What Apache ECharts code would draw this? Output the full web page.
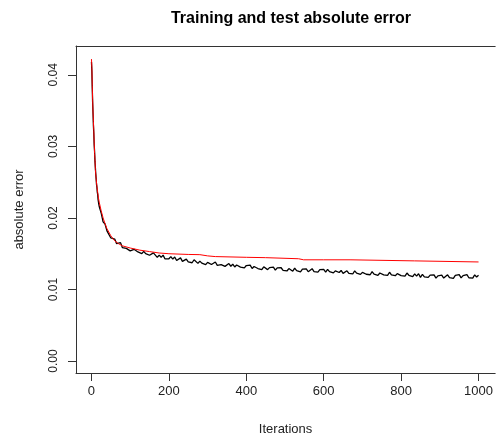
<!DOCTYPE html>
<html>
<head>
<meta charset="utf-8">
<script src="https://cdn.jsdelivr.net/npm/echarts@6/dist/echarts.min.js"></script>
<style>html,body{margin:0;padding:0;background:#fff}#c{width:496px;height:441px}</style>
</head>
<body>
<div id="c"></div>
<script>
const titleText = "Training and test absolute error";
const xName = "Iterations";
const yName = "absolute error";
const xTicks = [0, 200, 400, 600, 800, 1000];
const xTickLabels = ["0", "200", "400", "600", "800", "1000"];
const yTicks = [0.00, 0.01, 0.02, 0.03, 0.04];
const yTickLabels = ["0.00", "0.01", "0.02", "0.03", "0.04"];

// training error (black)
const trainIter = [0,1,2,3,4,5,6,7,8,9,10,11,12,13,14,15,16,17,18,19,20,
25,30,35,40,45,50,55,60,65,70,75,80,85,90,95,100,105,110,115,120,125,130,135,140,145,150,155,160,165,170,175,180,185,190,195,
200,205,210,215,220,225,230,235,240,245,250,255,260,265,270,275,280,285,290,295,300,305,310,315,320,325,330,335,340,345,350,355,360,365,370,375,380,385,390,395,
400,405,410,415,420,425,430,435,440,445,450,455,460,465,470,475,480,485,490,495,500,505,510,515,520,525,530,535,540,545,550,555,560,565,570,575,580,585,590,595,
600,605,610,615,620,625,630,635,640,645,650,655,660,665,670,675,680,685,690,695,700,705,710,715,720,725,730,735,740,745,750,755,760,765,770,775,780,785,790,795,
800,805,810,815,820,825,830,835,840,845,850,855,860,865,870,875,880,885,890,895,900,905,910,915,920,925,930,935,940,945,950,955,960,965,970,975,980,985,990,995,1000];
const trainErr = [0.0418,0.0405,0.0382,0.0361,0.0346,0.0329,0.0318,0.0302,0.0293,0.0279,0.0271,0.0262,0.0255,0.0247,0.0243,0.0236,0.0233,0.0226,0.0225,0.0219,0.0216,
0.02070,0.01945,0.01915,0.01820,0.01810,0.01720,0.01725,0.01705,0.01640,0.01645,0.01655,0.01585,0.01605,0.01575,0.01600,0.01540,0.01528,0.01562,0.01576,0.01525,0.01533,0.01501,0.01534,0.01502,0.01525,0.01479,0.01463,0.01512,0.01486,0.01450,0.01480,0.01450,0.01481,0.01427,0.01453,
0.01429,0.01459,0.01425,0.01455,0.01406,0.01427,0.01442,0.01393,0.01404,0.01424,0.01385,0.01407,0.01374,0.01416,0.01393,0.01365,0.01397,0.01369,0.01396,0.01348,0.01380,0.01388,0.01350,0.01368,0.01385,0.01338,0.01365,0.01348,0.01375,0.01323,0.01350,0.01363,0.01325,0.01353,0.01315,0.01343,0.01350,0.01313,0.01330,0.01303,
0.01335,0.01308,0.01341,0.01294,0.01322,0.01330,0.01293,0.01311,0.01279,0.01317,0.01325,0.01278,0.01306,0.01289,0.01312,0.01270,0.01303,0.01276,0.01304,0.01267,0.01290,0.01259,0.01293,0.01282,0.01256,0.01300,0.01264,0.01283,0.01247,0.01286,0.01265,0.01289,0.01248,0.01272,0.01291,0.01250,0.01274,0.01243,0.01277,0.01251,
0.01280,0.01243,0.01282,0.01250,0.01269,0.01232,0.01261,0.01279,0.01238,0.01266,0.01225,0.01248,0.01262,0.01225,0.01249,0.01217,0.01261,0.01229,0.01248,0.01211,0.01240,0.01249,0.01213,0.01232,0.01206,0.01250,0.01214,0.01238,0.01197,0.01231,0.01240,0.01204,0.01223,0.01197,0.01241,0.01205,0.01229,0.01193,0.01222,0.01231,
0.01195,0.01218,0.01187,0.01230,0.01199,0.01217,0.01181,0.01219,0.01188,0.01221,0.01170,0.01213,0.01177,0.01200,0.01169,0.01202,0.01176,0.01204,0.01158,0.01191,0.01165,0.01200,0.01160,0.01186,0.01206,0.01166,0.01192,0.01157,0.01197,0.01178,0.01208,0.01163,0.01194,0.01169,0.01209,0.01164,0.01190,0.01160,0.01205,0.01175,0.01200];

// test error (red)
const testIter = [0,1,2,3,4,5,6,7,8,9,10,12,14,16,18,20,25,30,35,40,50,60,70,80,100,125,150,175,200,250,280,300,320,400,450,535,548,600,668,670,835,838,1000];
const testErr = [0.0422,0.0410,0.0385,0.0365,0.0348,0.0335,0.0322,0.0305,0.0290,0.0283,0.0268,0.0255,0.0244,0.0236,0.0228,0.0222,0.0210,0.0200,0.0192,0.0185,0.0175,0.0168,0.0164,0.0161,0.0158,0.0155,0.0153,0.0151,0.0150,0.0149,0.01487,0.0147,0.0146,0.01450,0.01445,0.01430,0.01415,0.01415,0.01415,0.01400,0.01400,0.01385,0.01385];

const pairs = (xs, ys) => xs.map((x, i) => [x, ys[i]]);
const lookup = (ticks, labels) => v => { const i = ticks.findIndex(t => Math.abs(t - v) < 1e-9); return i >= 0 ? labels[i] : ''; };
const txt = '#222';
const frame = {color: '#333', width: 1};
const chart = echarts.init(document.getElementById('c'), null, {renderer: 'canvas'});
chart.setOption({
  animation: false,
  backgroundColor: '#fff',
  title: {
    text: titleText, left: 286, top: 6, textAlign: 'center',
    textStyle: {fontFamily: 'Liberation Sans', fontSize: 16, fontWeight: 'bold', color: '#000'}
  },
  grid: {left: 76, right: -2, top: 46, bottom: 66, show: false},
  xAxis: [{
    type: 'value', min: -40, max: 1043,
    name: xName, nameLocation: 'middle', nameGap: 50,
    nameTextStyle: {fontFamily: 'Liberation Sans', fontSize: 13, color: txt},
    axisLine: {show: true, onZero: false, lineStyle: frame},
    splitLine: {show: false},
    axisTick: {show: true, inside: false, length: 8, customValues: xTicks, lineStyle: {color: '#333'}},
    axisLabel: {customValues: xTicks, margin: 12, fontFamily: 'Liberation Sans', fontSize: 13, color: txt, formatter: lookup(xTicks, xTickLabels)}
  }, {
    type: 'value', position: 'top', min: -40, max: 1043,
    axisLine: {show: true, onZero: false, lineStyle: frame},
    axisTick: {show: false}, axisLabel: {show: false}, splitLine: {show: false}
  }],
  yAxis: {
    type: 'value', min: -0.001667, max: 0.044028,
    name: yName, nameLocation: 'middle', nameGap: 50, nameRotate: 90,
    nameTextStyle: {fontFamily: 'Liberation Sans', fontSize: 13, color: txt},
    axisLine: {show: true, onZero: false, lineStyle: frame},
    splitLine: {show: false},
    axisTick: {show: true, inside: false, length: 8, customValues: yTicks, lineStyle: {color: '#333'}},
    axisLabel: {
      customValues: yTicks, rotate: 90, margin: 16, fontFamily: 'Liberation Sans', fontSize: 12, color: txt,
      formatter: lookup(yTicks, yTickLabels)
    }
  },
  series: [
    {type: 'line', xAxisIndex: 0, data: pairs(trainIter, trainErr), showSymbol: false, symbol: 'none', lineStyle: {color: '#000', width: 1.3}, z: 2},
    {type: 'line', xAxisIndex: 0, data: pairs(testIter, testErr), showSymbol: false, symbol: 'none', lineStyle: {color: '#ff0000', width: 1}, z: 3}
  ]
});
</script>
</body>
</html>
